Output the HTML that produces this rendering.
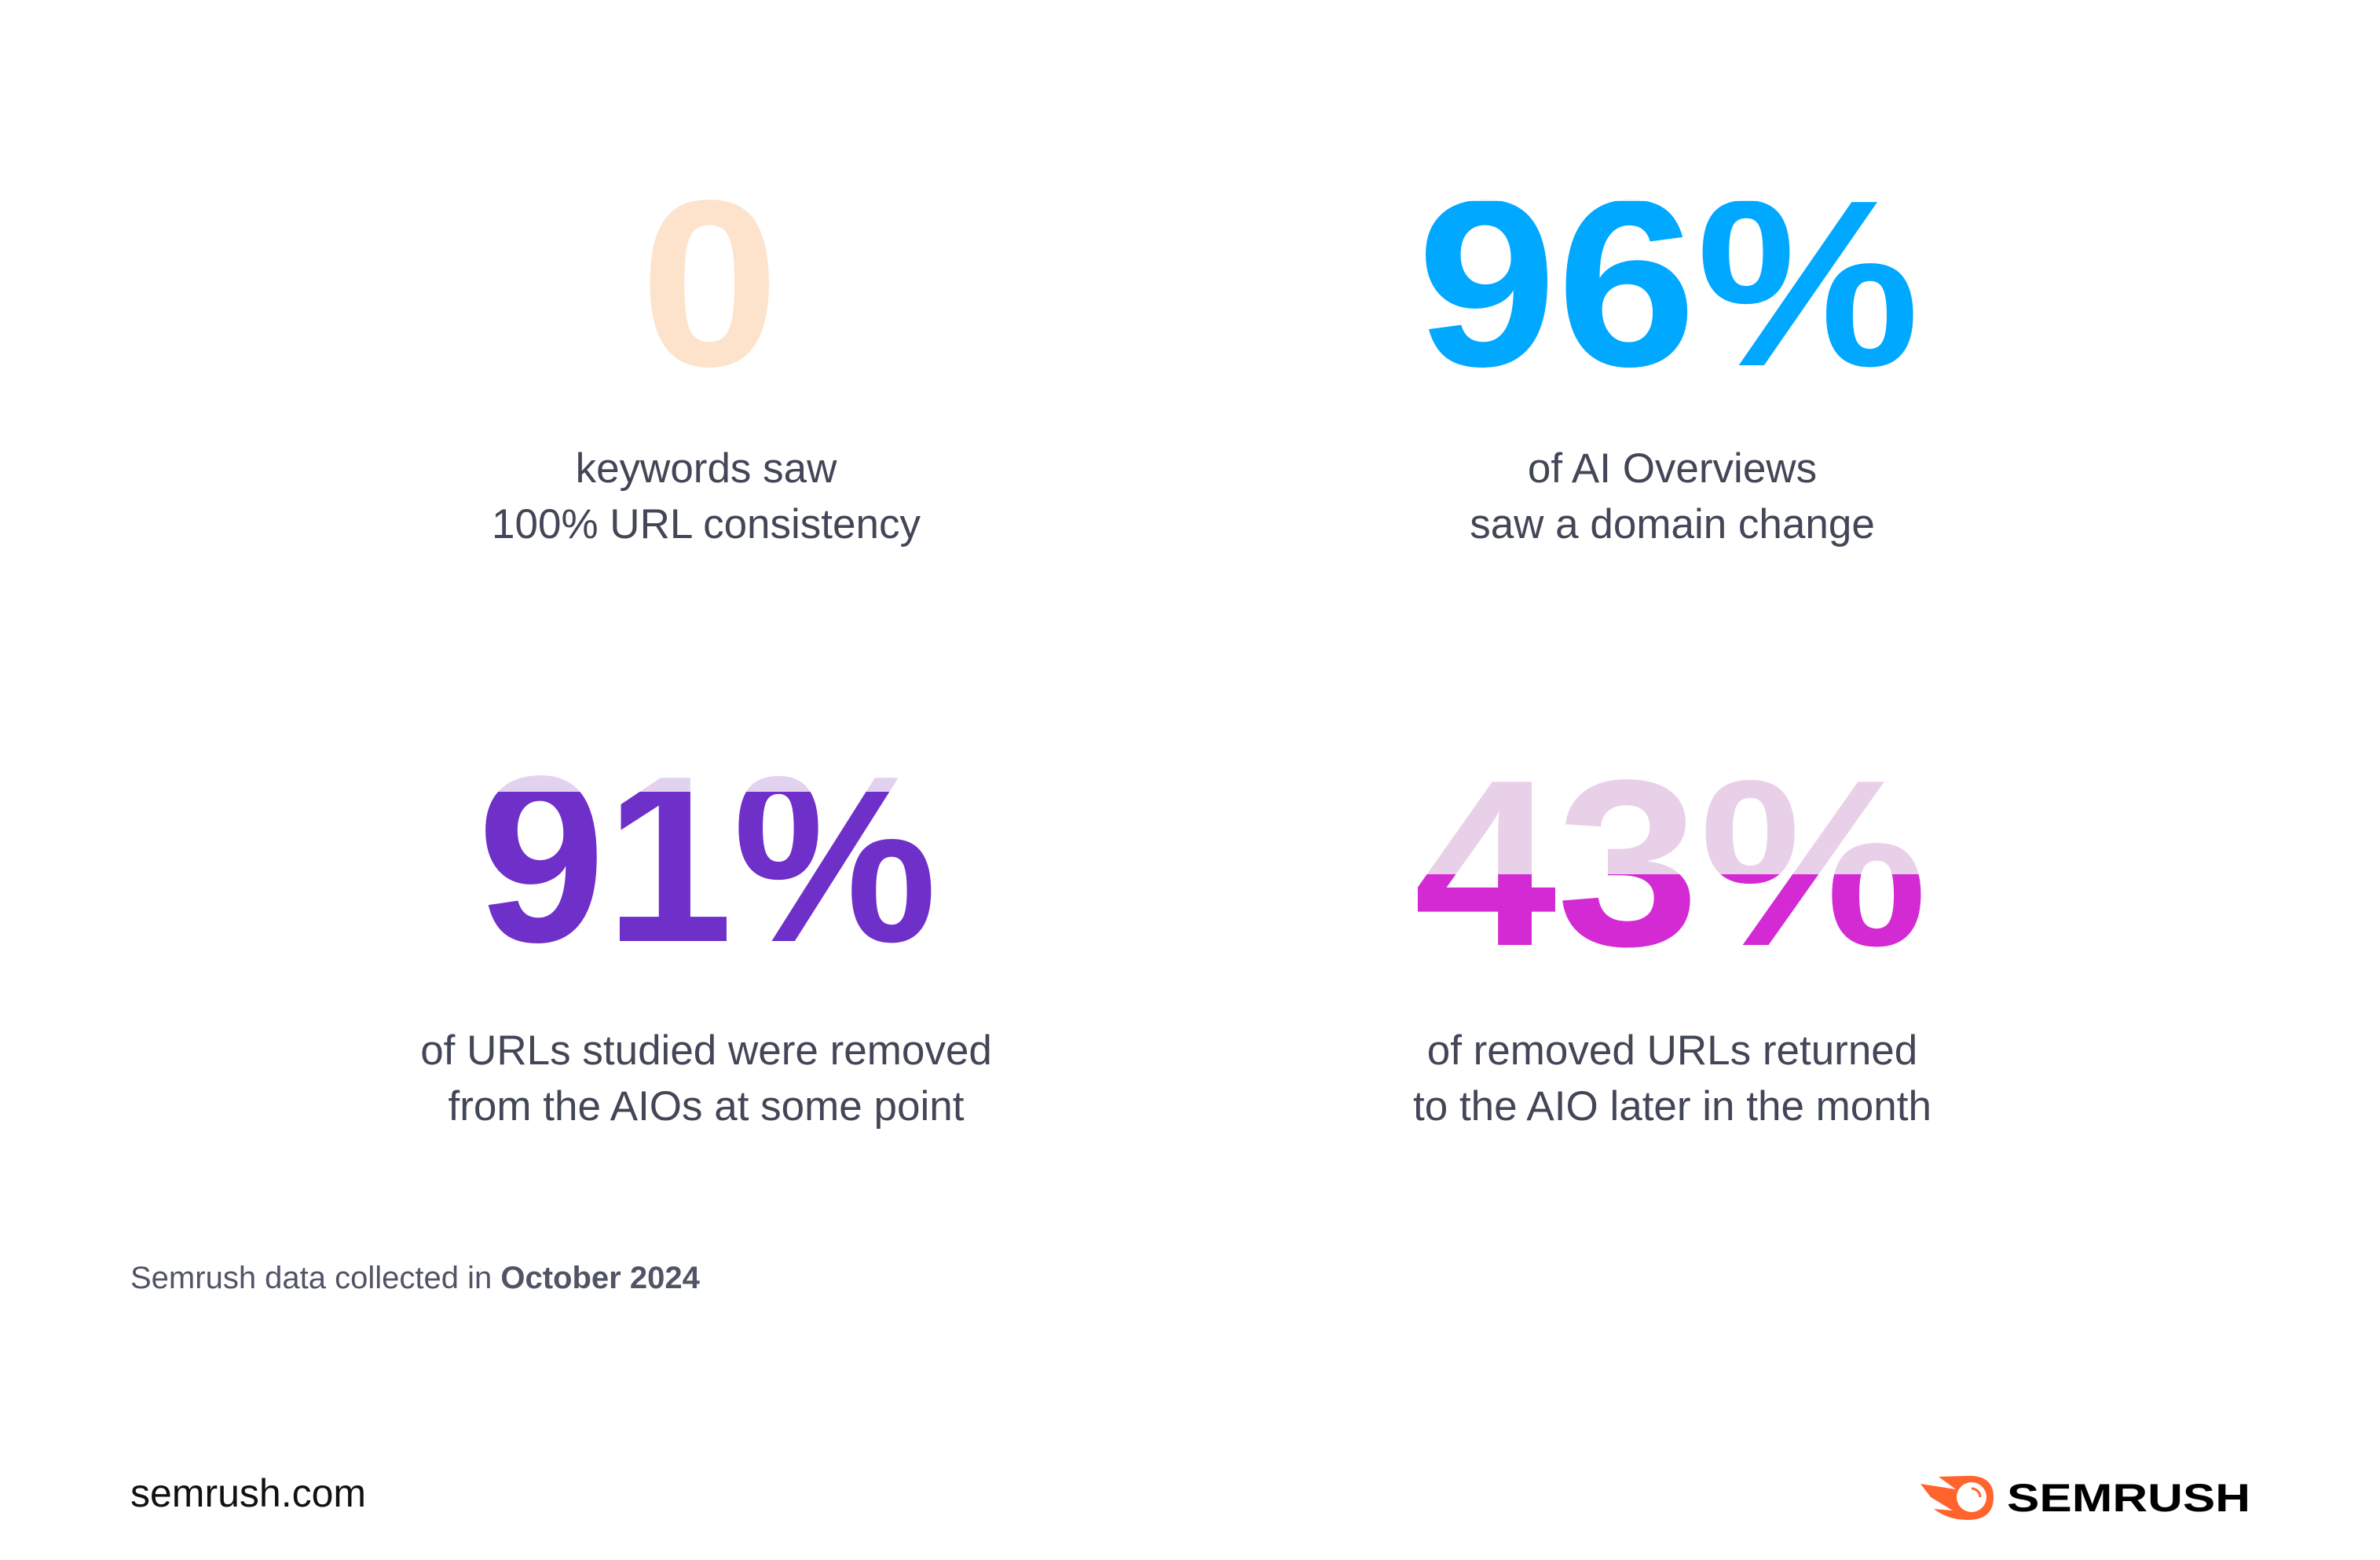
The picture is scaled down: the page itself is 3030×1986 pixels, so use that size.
<!DOCTYPE html>
<html><head><meta charset="utf-8"><style>
html,body{margin:0;padding:0;background:#fff}
svg{display:block}
.t{font-family:"Liberation Sans",sans-serif;fill:#424656;font-size:53px;text-anchor:middle}
.n{font-family:"Liberation Sans",sans-serif;font-weight:bold;font-size:302px}
</style></head><body>
<svg width="3030" height="1986" viewBox="0 0 3030 1986" xmlns="http://www.w3.org/2000/svg">
<defs>
<clipPath id="c96"><rect x="0" y="256" width="3030" height="400"/></clipPath>
<clipPath id="c91"><rect x="0" y="1008" width="3030" height="400"/></clipPath>
<clipPath id="c43"><rect x="0" y="1113" width="3030" height="400"/></clipPath>
</defs>
<text class="n" x="815" y="465" textLength="177" lengthAdjust="spacingAndGlyphs" fill="#fde3cc">0</text>

<text class="n" x="1804" y="465" textLength="640" lengthAdjust="spacingAndGlyphs" fill="#cdeefc">96%</text>
<text class="n" x="1804" y="465" textLength="640" lengthAdjust="spacingAndGlyphs" fill="#00a8ff" clip-path="url(#c96)">96%</text>

<text class="n" x="608" y="1198" textLength="585" lengthAdjust="spacingAndGlyphs" fill="#e3d2ef">91%</text>
<text class="n" x="608" y="1198" textLength="585" lengthAdjust="spacingAndGlyphs" fill="#6f2fc9" clip-path="url(#c91)">91%</text>

<text class="n" x="1800" y="1203" textLength="654" lengthAdjust="spacingAndGlyphs" fill="#e8d0e8">43%</text>
<text class="n" x="1800" y="1203" textLength="654" lengthAdjust="spacingAndGlyphs" fill="#d42ad4" clip-path="url(#c43)">43%</text>

<text class="t" x="899" y="614">keywords saw</text>
<text class="t" x="899" y="685">100% URL consistency</text>
<text class="t" x="2129" y="614">of AI Overviews</text>
<text class="t" x="2129" y="685">saw a domain change</text>
<text class="t" x="899" y="1355">of URLs studied were removed</text>
<text class="t" x="899" y="1426">from the AIOs at some point</text>
<text class="t" x="2129" y="1355">of removed URLs returned</text>
<text class="t" x="2129" y="1426">to the AIO later in the month</text>

<text x="166" y="1640" font-family="Liberation Sans,sans-serif" font-size="40" fill="#505466">Semrush data collected in <tspan font-weight="bold">October 2024</tspan></text>
<text x="166" y="1918" font-family="Liberation Sans,sans-serif" font-size="50" fill="#111">semrush.com</text>

<g>
<path d="M2445 1889 L2490 1896 L2468 1880 L2500 1879 Q2538 1876 2538 1906 Q2538 1935 2505 1935 Q2480 1935 2462 1921 L2486 1923 L2458 1906 Z" fill="#ff642d"/>
<circle cx="2510" cy="1906" r="19" fill="#fff"/>
<path d="M2510 1895 A11 11 0 0 1 2521 1906" stroke="#ff642d" stroke-width="3" fill="none"/>
<text x="2555" y="1924" font-family="Liberation Sans,sans-serif" font-weight="bold" font-size="50" textLength="310" lengthAdjust="spacingAndGlyphs" fill="#000">SEMRUSH</text>
</g>
</svg>
</body></html>
